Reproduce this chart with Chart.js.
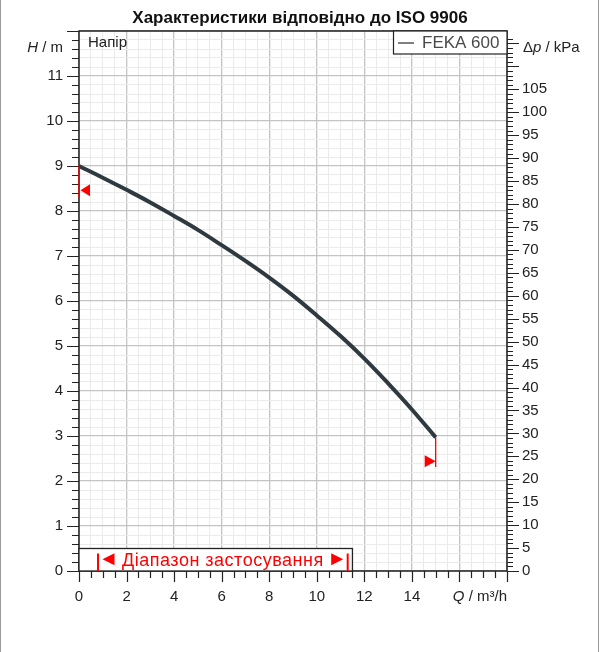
<!DOCTYPE html>
<html>
<head>
<meta charset="utf-8">
<title>Характеристики відповідно до ISO 9906</title>
<script src="https://cdn.jsdelivr.net/npm/chart.js@4.4.1/dist/chart.umd.min.js"></script>
<style>
  html, body { margin: 0; padding: 0; background: #fff; }
  #wrap { width: 600px; height: 652px; }
</style>
</head>
<body>
<div id="wrap"><canvas id="pumpChart" width="600" height="652"></canvas></div>
<script>
// Крива напору FEKA 600
const flowQ = [0, 1, 2, 3, 4, 5, 6, 7, 8, 9, 10, 11, 12, 13, 14, 15];
const headH = [9.00, 8.74, 8.47, 8.19, 7.89, 7.58, 7.24, 6.89, 6.52, 6.12, 5.68, 5.22, 4.72, 4.17, 3.59, 2.97];

// Підписи осей
const qTickLabels = [0, 2, 4, 6, 8, 10, 12, 14];
const hTickLabels = [0, 1, 2, 3, 4, 5, 6, 7, 8, 9, 10, 11];
const kpaTickLabels = [0, 5, 10, 15, 20, 25, 30, 35, 40, 45, 50, 55, 60, 65, 70, 75, 80, 85, 90, 95, 100, 105];
const kpaPerMetre = 9.81;

// Діапазон застосування (м³/год) та рамка під ним
const appRange = [0.8, 11.3];
const appBox = { qEnd: 11.5, hTop: 0.5 };

// Червоні позначки на кінцях кривої
const endMarks = [
    { q: 0, hFrom: 9.00, hTo: 8.31, hArrow: 8.46, dir: -1 },
    { q: 15, hFrom: 2.97, hTo: 2.31, hArrow: 2.44, dir: 1 }
];

const FONT = '"Liberation Sans", Arial, sans-serif';
const RED = '#ff0000';

function near(v, step) {
    return Math.abs(v / step - Math.round(v / step)) < 1e-6;
}

// Текст із курсивною частиною, напр. "H / m"
function drawMixed(ctx, parts, x, y, align) {
    let total = 0;
    parts.forEach(p => {
        ctx.font = (p.italic ? 'italic ' : '') + '15px ' + FONT;
        total += ctx.measureText(p.t).width;
    });
    let cx = align === 'right' ? x - total : x;
    ctx.textAlign = 'left';
    ctx.textBaseline = 'middle';
    parts.forEach(p => {
        ctx.font = (p.italic ? 'italic ' : '') + '15px ' + FONT;
        ctx.fillText(p.t, cx, y);
        cx += ctx.measureText(p.t).width;
    });
}

const decorPlugin = {
    id: 'decor',
    afterDatasetsDraw(chart) {
        const { ctx, chartArea: a, scales: { x, y, y2 } } = chart;
        ctx.save();

        // рамка сторінки
        ctx.strokeStyle = '#9a9a9a';
        ctx.lineWidth = 1;
        ctx.beginPath();
        ctx.moveTo(0.5, 0); ctx.lineTo(0.5, chart.height);
        ctx.moveTo(598.5, 0); ctx.lineTo(598.5, chart.height);
        ctx.stroke();

        // рамка графіка
        ctx.strokeStyle = '#222';
        ctx.lineWidth = 1.5;
        ctx.strokeRect(a.left, a.top, a.right - a.left, a.bottom - a.top);

        // риски осей
        ctx.lineWidth = 1.2;
        ctx.beginPath();
        x.ticks.forEach(t => {
            const px = Math.round(x.getPixelForValue(t.value)) + 0.5;
            const len = near(t.value, 2) ? 11 : 7;
            ctx.moveTo(px, a.bottom); ctx.lineTo(px, a.bottom + len);
        });
        y.ticks.forEach(t => {
            const py = Math.round(y.getPixelForValue(t.value)) + 0.5;
            const len = near(t.value, 1) ? 12 : 7;
            ctx.moveTo(a.left - len, py); ctx.lineTo(a.left, py);
        });
        y2.ticks.forEach(t => {
            if (!near(t.value, 1)) return;
            const py = Math.round(y2.getPixelForValue(t.value)) + 0.5;
            const len = near(t.value, 5) ? 12 : 6;
            ctx.moveTo(a.right, py); ctx.lineTo(a.right + len, py);
        });
        ctx.stroke();

        // позначки на кінцях кривої
        endMarks.forEach(m => {
            const px = x.getPixelForValue(m.q);
            ctx.strokeStyle = RED;
            ctx.lineWidth = 1.3;
            ctx.beginPath();
            ctx.moveTo(px, y.getPixelForValue(m.hFrom));
            ctx.lineTo(px, y.getPixelForValue(m.hTo));
            ctx.stroke();
            const py = y.getPixelForValue(m.hArrow);
            ctx.fillStyle = RED;
            ctx.beginPath();
            ctx.moveTo(px + (m.dir < 0 ? 1.5 : 0), py);
            ctx.lineTo(px - m.dir * 11, py - 6);
            ctx.lineTo(px - m.dir * 11, py + 6);
            ctx.closePath();
            ctx.fill();
        });

        // діапазон застосування
        const bx1 = x.getPixelForValue(appBox.qEnd);
        const by0 = y.getPixelForValue(appBox.hTop);
        ctx.fillStyle = '#fff';
        ctx.fillRect(a.left, by0, bx1 - a.left, a.bottom - by0);
        ctx.strokeStyle = '#222';
        ctx.lineWidth = 1.3;
        ctx.strokeRect(a.left, by0, bx1 - a.left, a.bottom - by0);
        const r0 = x.getPixelForValue(appRange[0]);
        const r1 = x.getPixelForValue(appRange[1]);
        const midY = (by0 + a.bottom) / 2 - 0.5;
        ctx.strokeStyle = RED;
        ctx.lineWidth = 2;
        ctx.beginPath();
        ctx.moveTo(r0, by0 + 5); ctx.lineTo(r0, a.bottom);
        ctx.moveTo(r1, by0 + 5); ctx.lineTo(r1, a.bottom);
        ctx.stroke();
        ctx.fillStyle = RED;
        ctx.beginPath();
        ctx.moveTo(r0 + 4.5, midY); ctx.lineTo(r0 + 16.5, midY - 6); ctx.lineTo(r0 + 16.5, midY + 6);
        ctx.closePath(); ctx.fill();
        ctx.beginPath();
        ctx.moveTo(r1 - 4.5, midY); ctx.lineTo(r1 - 16.5, midY - 6); ctx.lineTo(r1 - 16.5, midY + 6);
        ctx.closePath(); ctx.fill();
        ctx.font = '18px ' + FONT;
        ctx.letterSpacing = '0.5px';
        ctx.textAlign = 'center';
        ctx.textBaseline = 'middle';
        ctx.fillText('Діапазон застосування', (r0 + r1) / 2, midY + 1.5);
        ctx.letterSpacing = '0px';

        // легенда
        const ds = chart.data.datasets[0];
        ctx.fillStyle = '#fff';
        ctx.fillRect(393, a.top, a.right - 393, 23);
        ctx.strokeStyle = '#222';
        ctx.lineWidth = 1.2;
        ctx.strokeRect(393.5, a.top, a.right - 393.5, 23);
        ctx.strokeStyle = '#555';
        ctx.lineWidth = 1.5;
        ctx.beginPath();
        ctx.moveTo(398, a.top + 12); ctx.lineTo(414, a.top + 12);
        ctx.stroke();
        ctx.fillStyle = '#4a4a4a';
        ctx.font = '17px ' + FONT;
        ctx.textAlign = 'left';
        ctx.textBaseline = 'middle';
        ctx.fillText(ds.label, 422, a.top + 12.5);

        // підписи
        ctx.fillStyle = '#222';
        ctx.font = '15px ' + FONT;
        ctx.fillText('Напір', 88, 43);
        drawMixed(ctx, [{ t: 'H', italic: true }, { t: ' / m' }], 63, 48, 'right');
        drawMixed(ctx, [{ t: 'Δ' }, { t: 'p', italic: true }, { t: ' / kPa' }], 523, 48, 'left');
        drawMixed(ctx, [{ t: 'Q', italic: true }, { t: ' / m³/h' }], 507, 597, 'right');

        ctx.restore();
    }
};

function createPumpChart() {
    const ctx = document.getElementById('pumpChart').getContext('2d');
    const points = flowQ.map((q, i) => ({ x: q, y: headH[i] }));
    return new Chart(ctx, {
        type: 'line',
        data: {
            datasets: [{
                label: 'FEKA 600',
                data: points,
                borderColor: '#2e3a40',
                borderWidth: 4,
                pointRadius: 0,
                tension: 0.4,
                fill: false
            }]
        },
        options: {
            responsive: false,
            animation: false,
            devicePixelRatio: 1,
            layout: { padding: 0 },
            plugins: {
                legend: { display: false },
                tooltip: { enabled: false },
                title: {
                    display: true,
                    text: 'Характеристики відповідно до ISO 9906',
                    color: '#111',
                    font: { family: FONT, size: 17, weight: 'bold' },
                    padding: { top: 8, bottom: 2.6 }
                }
            },
            scales: {
                x: {
                    type: 'linear',
                    min: 0,
                    max: 18,
                    afterFit: s => { s.height = 81; },
                    border: { display: false },
                    grid: {
                        drawTicks: false,
                        color: c => near(c.tick.value, 2) ? '#c4c4c4' : '#ebebeb',
                        lineWidth: c => near(c.tick.value, 2) ? 1.3 : 1
                    },
                    ticks: {
                        stepSize: 0.5,
                        autoSkip: false,
                        maxRotation: 0,
                        padding: 17,
                        color: '#222',
                        font: { family: FONT, size: 15 },
                        callback: v => qTickLabels.some(q => Math.abs(q - v) < 1e-6) ? String(Math.round(v)) : ''
                    }
                },
                y: {
                    type: 'linear',
                    position: 'left',
                    min: 0,
                    max: 12,
                    afterFit: s => { s.width = 79; },
                    border: { display: false },
                    grid: {
                        drawTicks: false,
                        color: c => near(c.tick.value, 1) ? '#c4c4c4' : '#ebebeb',
                        lineWidth: c => near(c.tick.value, 1) ? 1.3 : 1
                    },
                    ticks: {
                        stepSize: 0.2,
                        autoSkip: false,
                        padding: 16,
                        color: '#222',
                        font: { family: FONT, size: 15 },
                        callback: v => hTickLabels.some(h => Math.abs(h - v) < 1e-6) ? String(Math.round(v)) : ''
                    }
                },
                y2: {
                    type: 'linear',
                    position: 'right',
                    min: 0,
                    max: 12 * kpaPerMetre,
                    afterFit: s => { s.width = 93; },
                    border: { display: false },
                    grid: { drawOnChartArea: false, drawTicks: false },
                    ticks: {
                        stepSize: 1,
                        autoSkip: false,
                        padding: 15,
                        color: '#222',
                        font: { family: FONT, size: 15 },
                        callback: v => kpaTickLabels.some(k => Math.abs(k - v) < 1e-6) ? String(Math.round(v)) : ''
                    }
                }
            }
        },
        plugins: [decorPlugin]
    });
}

document.addEventListener('DOMContentLoaded', function() {
    createPumpChart();
});
</script>
</body>
</html>
